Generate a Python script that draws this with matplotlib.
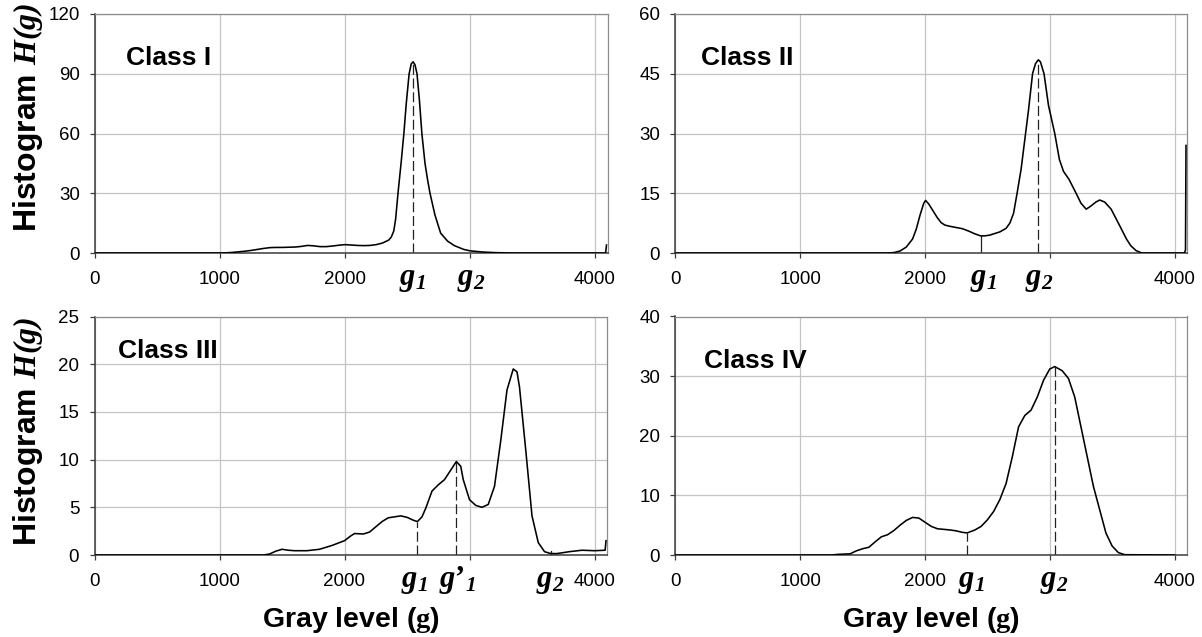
import matplotlib
matplotlib.use('Agg')
import matplotlib.pyplot as plt
from matplotlib.transforms import blended_transform_factory

plt.rcParams['font.family'] = ['Liberation Sans', 'DejaVu Sans']
plt.rcParams['mathtext.fontset'] = 'custom'
plt.rcParams['mathtext.rm'] = 'Liberation Serif:bold'
plt.rcParams['mathtext.bf'] = 'Liberation Serif:bold'
plt.rcParams['mathtext.it'] = 'Liberation Serif:italic:bold'
plt.rcParams['mathtext.bfit'] = 'Liberation Serif:italic:bold'

# ---------------- data ----------------
c1_g = [0, 1000, 1050, 1100, 1150, 1200, 1250, 1300, 1350, 1400, 1450, 1500, 1550, 1600, 1650, 1700, 1750, 1800,
        1850, 1900, 1950, 2000, 2050, 2100, 2150, 2200, 2250, 2300, 2350, 2370, 2390, 2405, 2424, 2450, 2471, 2490,
        2513, 2530, 2545, 2560, 2576, 2595, 2615, 2640, 2660, 2680, 2720, 2765, 2820, 2875, 2950, 3000, 3100, 3200,
        3300, 3350, 4085, 4092]
c1_h = [0, 0, 0.1, 0.3, 0.6, 0.9, 1.3, 1.8, 2.3, 2.7, 2.8, 2.8, 2.9, 3.0, 3.3, 3.8, 3.6, 3.2, 3.2, 3.5, 3.9, 4.2,
        4.0, 3.8, 3.7, 3.8, 4.2, 5.0, 6.5, 8, 11, 17, 30, 46, 60, 75, 90, 95, 96, 94.5, 90, 77, 60, 45, 37, 30, 19,
        10, 6, 3.7, 1.8, 1.1, 0.5, 0.2, 0.05, 0, 0, 4]

c2_g = [0, 1700, 1750, 1800, 1850, 1900, 1930, 1960, 1990, 2005, 2030, 2060, 2100, 2130, 2160, 2200, 2250, 2300,
        2350, 2400, 2446, 2480, 2520, 2560, 2600, 2650, 2680, 2710, 2738, 2770, 2800, 2830, 2862, 2885, 2908, 2925,
        2954, 2990, 3040, 3077, 3110, 3154, 3215, 3250, 3292, 3330, 3370, 3400, 3440, 3492, 3554, 3615, 3650, 3692,
        3738, 4080, 4088, 4092]
c2_h = [0, 0, 0.1, 0.5, 1.5, 3.5, 6, 9.5, 12.5, 13.2, 12.3, 10.8, 8.8, 7.6, 7.0, 6.7, 6.4, 6.1, 5.5, 4.8, 4.3, 4.3,
        4.5, 4.9, 5.3, 6.2, 7.5, 10, 15, 21, 28.5, 36, 45, 47.5, 48.5, 48, 45, 37, 30, 23.5, 20.5, 18.5, 14.75, 12.5,
        11, 11.8, 12.8, 13.3, 12.8, 11, 7.25, 3.5, 1.8, 0.6, 0, 0, 0.8, 27]

c3_g = [0, 1350, 1400, 1450, 1500, 1550, 1600, 1700, 1800, 1900, 2000, 2050, 2080, 2150, 2200, 2250, 2300, 2350,
        2400, 2450, 2500, 2550, 2583, 2620, 2650, 2700, 2750, 2800, 2850, 2895, 2930, 2950, 3000, 3050, 3100, 3150,
        3200, 3250, 3300, 3350, 3380, 3400, 3450, 3500, 3550, 3600, 3650, 3700, 3800, 3900, 4000, 4085, 4092]
c3_h = [0, 0, 0.1, 0.4, 0.6, 0.5, 0.45, 0.45, 0.6, 1.0, 1.5, 2.0, 2.25, 2.2, 2.4, 2.95, 3.5, 3.9, 4.0, 4.1, 3.95,
        3.65, 3.5, 4.0, 4.9, 6.7, 7.35, 7.9, 8.9, 9.8, 9.3, 7.9, 5.8, 5.2, 5.0, 5.3, 7.2, 12, 17.3, 19.5, 19.2, 17.6,
        11, 4.1, 1.3, 0.35, 0.15, 0.15, 0.35, 0.5, 0.45, 0.5, 1.5]

c4_g = [0, 1250, 1300, 1400, 1450, 1500, 1550, 1600, 1650, 1700, 1750, 1800, 1850, 1900, 1950, 2000, 2050, 2100,
        2200, 2250, 2300, 2338, 2400, 2450, 2500, 2550, 2600, 2650, 2700, 2750, 2800, 2850, 2900, 2950, 3000, 3040,
        3100, 3150, 3200, 3250, 3300, 3350, 3400, 3450, 3500, 3550, 3600, 4000]
c4_h = [0, 0, 0.1, 0.2, 0.7, 1.05, 1.3, 2.2, 3.05, 3.4, 4.1, 5.0, 5.8, 6.3, 6.2, 5.5, 4.8, 4.4, 4.2, 4.05, 3.8, 3.7,
        4.2, 4.8, 5.9, 7.3, 9.3, 12, 16.5, 21.5, 23.4, 24.3, 26.5, 29.3, 31.2, 31.6, 30.9, 29.6, 26.5, 21.5, 16.5,
        11.5, 7.6, 3.7, 1.5, 0.4, 0.05, 0]

class_names = ['Class I', 'Class II', 'Class III', 'Class IV']
y_ticks = [[0, 30, 60, 90, 120], [0, 15, 30, 45, 60], [0, 5, 10, 15, 20, 25], [0, 10, 20, 30, 40]]
x_ticks = [0, 1000, 2000, 3000, 4000]
x_tick_labels = ['0', '1000', '2000', '', '4000']

# threshold markers: position, height of the marker line, line style
mark_g = [[2545], [2446, 2908], [2583, 2895, 3650], [2338, 3040]]
mark_top = [[96], [4.3, 48.5], [3.5, 9.8, 0.45], [3.7, 31.6]]
mark_dashed = [[True], [False, True], [True, True, False], [True, True]]
# threshold labels
G1 = r'$\mathbfit{g}_{\mathbfit{1}}$'
G2 = r'$\mathbfit{g}_{\mathbfit{2}}$'
G1P = '$\\mathbfit{g}\u2019_{\\mathbfit{1}}$'
lab_g = [[2540, 3010], [2465, 2912], [2560, 2905, 3643], [2370, 3037]]
lab_txt = [[G1, G2], [G1, G2], [G1, G1P, G2], [G1, G2]]

series_g = [c1_g, c2_g, c3_g, c4_g]
series_h = [c1_h, c2_h, c3_h, c4_h]

# ---------------- layout ----------------
W, H = 1202, 637
fig = plt.figure(figsize=(W / 100, H / 100), dpi=100)


def rect(x0, x1, y0, y1):
    return [x0 / W, 1 - y1 / H, (x1 - x0) / W, (y1 - y0) / H]


rects = [rect(95, 607.5, 14, 253), rect(675.5, 1187, 14, 253),
         rect(94.5, 607, 316.5, 555), rect(675.5, 1187, 316.5, 555)]
class_pos = [(0.06, 0.815), (0.049, 0.815), (0.045, 0.856), (0.056, 0.815)]

for i in range(4):
    ax = fig.add_axes(rects[i])
    ax.set_xlim(0, 4100)
    ax.set_ylim(y_ticks[i][0], y_ticks[i][-1])
    ax.set_xticks(x_ticks)
    ax.set_xticklabels(x_tick_labels)
    ax.set_yticks(y_ticks[i])
    ax.grid(True, color='#c4c4c4', lw=0.9)
    ax.set_axisbelow(True)
    for s in ['left', 'bottom']:
        ax.spines[s].set_color('#3c3c3c')
        ax.spines[s].set_linewidth(1.1)
    for s in ['top', 'right']:
        ax.spines[s].set_color('#8c8c8c')
        ax.spines[s].set_linewidth(0.9)
    ax.tick_params(axis='x', direction='out', length=3.5, width=0.9, color='#3c3c3c', pad=9.5, labelsize=13.5)
    ax.tick_params(axis='y', direction='out', length=3.5, width=0.9, color='#3c3c3c', pad=7.5, labelsize=13.5)

    ax.plot(series_g[i], series_h[i], color='black', lw=1.15, zorder=3, solid_joinstyle='round')

    for g, top, dashed in zip(mark_g[i], mark_top[i], mark_dashed[i]):
        ax.plot([g, g], [0, top], color='#222222', lw=0.9,
                linestyle=(0, (8, 3)) if dashed else '-', zorder=2)

    trans = blended_transform_factory(ax.transData, ax.transAxes)
    for g, t in zip(lab_g[i], lab_txt[i]):
        ax.annotate(t, xy=(g, 0), xycoords=trans, xytext=(0, -23), textcoords='offset points',
                    ha='center', va='baseline', fontsize=22)

    ax.text(class_pos[i][0], class_pos[i][1], class_names[i], transform=ax.transAxes,
            fontsize=19, fontweight='bold', ha='left', va='center')

# y labels
for yc in [117, 431]:
    fig.text(36 / W, 1 - yc / H, r'Histogram $\mathbfit{H(g)}$', rotation=90, rotation_mode='anchor',
             ha='center', va='baseline', fontsize=23, fontweight='bold')
# x labels
for xc in [351, 931]:
    fig.text(xc / W, 10 / H, r'Gray level ($\mathbf{g}$)', ha='center', va='baseline',
             fontsize=20.5, fontweight='bold')

fig.savefig('out.png', dpi=100)
